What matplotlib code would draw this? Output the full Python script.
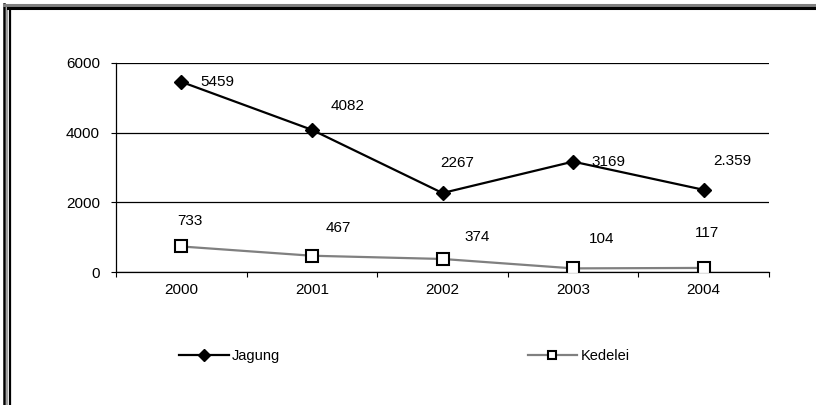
import numpy as np
import matplotlib.pyplot as plt
from matplotlib.lines import Line2D

# data
years = ['2000', '2001', '2002', '2003', '2004']
jagung = [5459, 4082, 2267, 3169, 2359]
kedelei = [733, 467, 374, 104, 117]
jagung_labels = ['5459', '4082', '2267', '3169', '2.359']
kedelei_labels = ['733', '467', '374', '104', '117']

plt.rcParams['font.family'] = ['Liberation Sans', 'DejaVu Sans']
fs = 11

fig = plt.figure(figsize=(8.16, 4.05), dpi=100)
fig.patch.set_facecolor('#FFFFFF')
ax = fig.add_axes([116/816, 1-272/405, 653/816, 209/405])

x = np.arange(len(years))
ax.plot(x, jagung, color='black', linewidth=1.6, marker='D', markersize=7.5,
        markerfacecolor='black', markeredgecolor='black', label='Jagung', zorder=4)
ax.plot(x, kedelei, color='#808080', linewidth=1.6, marker='s', markersize=8.5,
        markerfacecolor='white', markeredgecolor='black', markeredgewidth=1.5,
        label='Kedelei', zorder=4)

#data labels, offsets in pixels (dx, dy up)
j_off = [(36, 0), (36, 24), (15, 30), (35, 0), (29, 29)]
k_off = [(9, 25), (26, 28), (35, 22), (29, 29), (3, 35)]
for i in range(len(years)):
    ax.annotate(jagung_labels[i], (x[i], jagung[i]), xytext=(j_off[i][0]*0.72, j_off[i][1]*0.72),
                textcoords='offset points', ha='center', va='center', fontsize=fs)
    ax.annotate(kedelei_labels[i], (x[i], kedelei[i]), xytext=(k_off[i][0]*0.72, k_off[i][1]*0.72),
                textcoords='offset points', ha='center', va='center', fontsize=fs)

ax.set_xlim(-0.5, len(years)-0.5)
ax.set_ylim(0, 6000)
ax.set_yticks([0, 2000, 4000, 6000])
ax.set_yticklabels(['0', '2000', '4000', '6000'], fontsize=fs)
ax.set_xticks(np.arange(-0.5, len(years)))
ax.set_xticklabels([])
ax.set_xticks(x, minor=True)
ax.set_xticklabels(years, minor=True, fontsize=fs)
ax.tick_params(axis='x', which='major', direction='out', length=3.5, width=0.8)
ax.tick_params(axis='x', which='minor', length=0, pad=8)
ax.tick_params(axis='y', direction='out', length=3.5, width=0.8, pad=8)

ax.grid(axis='y', color='black', linewidth=0.9)
ax.set_axisbelow(True)
ax.spines['right'].set_visible(False)
ax.spines['top'].set_visible(False)
ax.spines['left'].set_linewidth(0.9)
ax.spines['bottom'].set_linewidth(0.9)

ax.legend(loc='center left', bbox_to_anchor=(179/816, 1-356/405),
          bbox_transform=fig.transFigure, ncol=2, frameon=False, fontsize=10.5,
          handlelength=3.4, handletextpad=0.25, columnspacing=16.95, markerscale=0.75,
          borderpad=0, borderaxespad=0)

#page border (decoration)
def fl(xs, ys, color, lw):
    fig.add_artist(Line2D([v/816 for v in xs], [1-v/405 for v in ys],
                          color=color, linewidth=lw, transform=fig.transFigure))

fl([4, 4], [4, 405], 'black', 1.8)
fl([6.5, 6.5], [5, 405], '#909090', 1.2)
fl([10, 10], [8, 405], 'black', 1.6)
fl([4, 816], [5, 5], '#808080', 2.2)
fl([8, 816], [8, 8], 'black', 2.2)

fig.savefig('out.png', dpi=100)
